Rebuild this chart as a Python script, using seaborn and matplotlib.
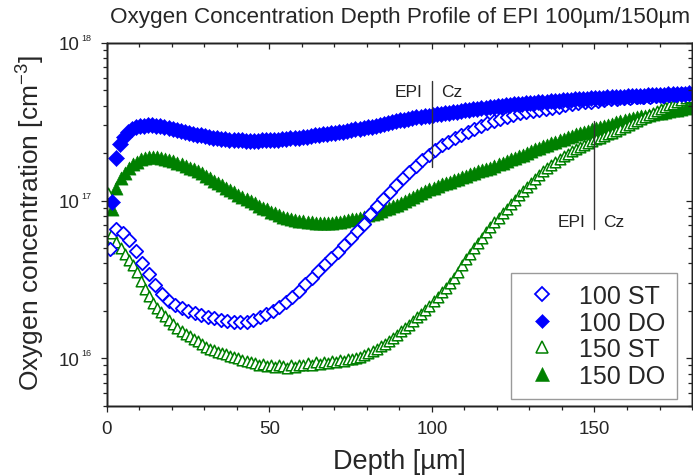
import numpy as np
import matplotlib
matplotlib.use("Agg")
import matplotlib.pyplot as plt
import seaborn as sns
from matplotlib.lines import Line2D
from matplotlib.ticker import MultipleLocator, LogLocator, NullFormatter, FixedLocator

sns.set_style("ticks")
plt.rcParams["font.family"] = ["Liberation Sans", "DejaVu Sans"]
plt.rcParams["mathtext.fontset"] = "custom"
plt.rcParams["mathtext.rm"] = "Liberation Sans"
plt.rcParams["mathtext.it"] = "Liberation Sans:italic"
plt.rcParams["mathtext.bf"] = "Liberation Sans:bold"

BLUE = "#0000FF"
GREEN = "#008000"
UNIT = 1e16  # concentrations below are given in units of 1e16 cm^-3

series_labels = ["100 ST", "100 DO", "150 ST", "150 DO"]

# SIMS sampling depths [um]
depth_100st = 1.0 + 2.0 * np.arange(90)
depth_100do = 1.5 + 1.25 * np.arange(144)
depth_150st = 0.5 + 1.25 * np.arange(144)
depth_150do = 0.5 + 1.25 * np.arange(144)

conc_100st = [
    4.9, 6.6, 6.2, 5.6, 4.8, 4.0, 3.4, 2.9, 2.55, 2.3,
    2.17, 2.07, 2.0, 1.93, 1.88, 1.83, 1.79, 1.76, 1.72, 1.70,
    1.69, 1.71, 1.76, 1.82, 1.90, 2.0, 2.12, 2.27, 2.45, 2.66,
    2.95, 3.25, 3.6, 3.95, 4.35, 4.75, 5.25, 5.8, 6.4, 7.1,
    8.2, 9.2, 10.3, 11.4, 12.6, 13.9, 15.2, 16.6, 18.0, 19.5,
    21.0, 22.4, 23.7, 25.0, 26.2, 27.4, 28.6, 29.8, 31.0, 32.0,
    33.0, 34.0, 34.9, 35.7, 36.4, 37.0, 37.6, 38.1, 38.6, 39.4,
    40.2, 40.8, 41.4, 42.0, 42.5, 43.0, 43.4, 43.8, 44.2, 44.5,
    44.8, 45.1, 45.4, 45.7, 46.0, 46.3, 46.6, 46.9, 47.2, 47.5,
]

conc_100do = [
    9.8, 18.6, 22.9, 25.5, 27.3, 28.4, 29.2, 29.7, 29.9, 30.0, 30.0, 29.9,
    29.6, 29.3, 28.9, 28.5, 28.1, 27.7, 27.3, 26.9, 26.5, 26.2, 25.9, 25.6,
    25.3, 25.1, 24.9, 24.7, 24.5, 24.4, 24.3, 24.2, 24.1, 24.0, 24.0, 24.0,
    24.0, 24.1, 24.1, 24.2, 24.3, 24.4, 24.5, 24.7, 24.8, 25.0, 25.1, 25.3,
    25.5, 25.7, 25.9, 26.1, 26.3, 26.5, 26.7, 26.9, 27.1, 27.4, 27.7, 28.0,
    28.3, 28.6, 28.9, 29.2, 29.5, 29.9, 30.3, 30.7, 31.1, 31.5, 31.9, 32.3,
    32.7, 33.0, 33.4, 33.7, 34.0, 34.3, 34.6, 34.9, 35.2, 35.5, 35.8, 36.1,
    36.4, 36.7, 37.0, 37.3, 37.6, 37.9, 38.2, 38.5, 38.8, 39.1, 39.4, 39.7,
    40.0, 40.3, 40.6, 40.9, 41.1, 41.3, 41.5, 41.7, 41.9, 42.1, 42.3, 42.5,
    42.7, 42.9, 43.1, 43.3, 43.5, 43.7, 43.8, 44.0, 44.2, 44.3, 44.5, 44.6,
    44.8, 44.9, 45.1, 45.2, 45.4, 45.5, 45.7, 45.8, 46.0, 46.1, 46.3, 46.4,
    46.5, 46.7, 46.8, 47.0, 47.1, 47.2, 47.4, 47.5, 47.6, 47.8, 47.9, 48.0,
]

conc_150st = [
    11.2, 6.2, 5.5, 5.0, 4.6, 4.2, 3.9, 3.5, 3.1, 2.75, 2.5, 2.25,
    2.08, 1.96, 1.85, 1.74, 1.64, 1.56, 1.49, 1.43, 1.38, 1.33, 1.29, 1.24,
    1.18, 1.15, 1.13, 1.10, 1.08, 1.06, 1.04, 1.02, 1.00, 0.98, 0.96, 0.94,
    0.93, 0.91, 0.92, 0.89, 0.90, 0.88, 0.91, 0.89, 0.87, 0.90, 0.88, 0.91,
    0.90, 0.93, 0.91, 0.94, 0.92, 0.95, 0.93, 0.96, 0.94, 0.97, 0.96, 0.99,
    0.99, 1.01, 1.02, 1.05, 1.08, 1.11, 1.15, 1.19, 1.24, 1.29, 1.35, 1.41,
    1.48, 1.55, 1.63, 1.72, 1.82, 1.92, 2.03, 2.16, 2.30, 2.45, 2.62, 2.80,
    3.0, 3.25, 3.55, 3.9, 4.25, 4.6, 5.0, 5.4, 5.8, 6.3, 6.8, 7.3,
    7.8, 8.3, 8.9, 9.5, 10.1, 10.8, 11.5, 12.2, 12.9, 13.7, 14.5, 15.3,
    16.1, 16.9, 17.6, 18.4, 19.1, 19.8, 20.5, 21.2, 21.9, 22.6, 23.3, 23.9,
    24.5, 25.1, 25.7, 26.3, 27.0, 27.7, 28.5, 29.3, 30.2, 31.1, 32.0, 32.9,
    33.8, 34.8, 35.8, 36.9, 38.0, 39.1, 40.2, 41.3, 42.4, 43.5, 44.6, 45.6,
]

conc_150do = [
    5.1, 8.9, 12.0, 13.9, 15.0, 16.2, 17.0, 17.7, 18.3, 18.7, 18.9, 18.9,
    18.8, 18.6, 18.4, 18.1, 17.8, 17.4, 17.0, 16.6, 16.2, 15.8, 15.3, 14.9,
    14.4, 13.9, 13.4, 12.9, 12.5, 12.1, 11.7, 11.3, 10.9, 10.6, 10.2, 9.9,
    9.6, 9.3, 9.0, 8.8, 8.5, 8.3, 8.1, 7.9, 7.8, 7.6, 7.5, 7.4,
    7.4, 7.3, 7.3, 7.2, 7.2, 7.2, 7.2, 7.2, 7.3, 7.3, 7.4, 7.5,
    7.6, 7.7, 7.8, 7.9, 8.1, 8.2, 8.4, 8.6, 8.8, 9.0, 9.2, 9.4,
    9.7, 10.0, 10.3, 10.6, 10.9, 11.2, 11.5, 11.8, 12.1, 12.4, 12.7, 13.0,
    13.2, 13.5, 13.8, 14.1, 14.4, 14.7, 15.0, 15.3, 15.6, 15.9, 16.2, 16.5,
    17.0, 17.4, 17.8, 18.3, 18.7, 19.2, 19.6, 20.1, 20.6, 21.1, 21.6, 22.1,
    22.6, 23.1, 23.6, 24.2, 24.7, 25.2, 25.8, 26.3, 26.8, 27.3, 27.8, 28.3,
    28.8, 29.3, 29.8, 30.3, 30.8, 31.3, 31.8, 32.3, 32.8, 33.3, 33.7, 34.2,
    34.6, 35.0, 35.4, 35.8, 36.2, 36.6, 37.0, 37.4, 37.8, 38.2, 38.6, 39.0,
]

x_ticks = [0, 50, 100, 150]
y_decades = [16, 17, 18]

fig = plt.figure(figsize=(6.93, 4.77), dpi=100)
ax = fig.add_axes([0.154, 0.1474, 0.8446, 0.7604])
ax.set_yscale("log")

def conc(values):
    return np.asarray(values) * UNIT

# filled series first, open symbols drawn with a white interior
sns.scatterplot(x=depth_150do, y=conc(conc_150do), marker="^", s=9.5 ** 2,
                color=GREEN, edgecolor=GREEN, linewidth=0.4, ax=ax, legend=False)
sns.scatterplot(x=depth_150st, y=conc(conc_150st), marker="^", s=7.6 ** 2,
                color="white", edgecolor=GREEN, linewidth=1.1, ax=ax, legend=False)
sns.scatterplot(x=depth_100st, y=conc(conc_100st), marker="D", s=6.8 ** 2,
                color="white", edgecolor=BLUE, linewidth=1.3, ax=ax, legend=False)
sns.scatterplot(x=depth_100do, y=conc(conc_100do), marker="D", s=8.2 ** 2,
                color=BLUE, edgecolor=BLUE, linewidth=0.4, ax=ax, legend=False)

ax.set_xlim(0, 180)
ax.set_ylim(5e15, 1e18)

# axis styling: outward ticks at bottom/left, inward mirrored ticks at top/right
spine_color = "#222222"
for sp in ax.spines.values():
    sp.set_linewidth(1.0)
    sp.set_color(spine_color)
ax.xaxis.set_major_locator(FixedLocator(x_ticks))
ax.xaxis.set_minor_locator(MultipleLocator(10))
ax.set_yticks([10.0 ** e for e in y_decades])
ax.set_yticklabels(["10"] * len(y_decades))
ax.yaxis.set_minor_locator(LogLocator(base=10, subs=np.arange(2, 10)))
ax.yaxis.set_minor_formatter(NullFormatter())
ax.tick_params(which="major", direction="out", length=4.3, width=0.9, color=spine_color,
               labelsize=13.5)
ax.tick_params(which="minor", direction="out", length=2.9, width=0.9, color=spine_color)
ax.tick_params(axis="x", which="major", pad=6.0)
ax.tick_params(axis="y", which="major", pad=15.5)

for e in y_decades:
    ax.annotate(str(e), xy=(0, 10.0 ** e), xycoords=("axes fraction", "data"),
                xytext=(-18.0, 2.0), textcoords="offset points",
                ha="left", va="baseline", fontsize=6.5)

ax_top = ax.twiny()
ax_top.set_xlim(ax.get_xlim())
ax_top.xaxis.set_major_locator(FixedLocator(x_ticks))
ax_top.xaxis.set_minor_locator(MultipleLocator(10))
ax_top.tick_params(which="both", direction="in", labeltop=False, color=spine_color, width=0.9)
ax_top.tick_params(which="major", length=4.3)
ax_top.tick_params(which="minor", length=2.9)

ax_right = ax.twinx()
ax_right.set_yscale("log")
ax_right.set_ylim(ax.get_ylim())
ax_right.yaxis.set_major_locator(FixedLocator([10.0 ** e for e in y_decades]))
ax_right.yaxis.set_minor_locator(LogLocator(base=10, subs=np.arange(2, 10)))
ax_right.yaxis.set_minor_formatter(NullFormatter())
ax_right.tick_params(which="both", direction="in", labelright=False, color=spine_color, width=0.9)
ax_right.tick_params(which="major", length=4.3)
ax_right.tick_params(which="minor", length=2.9)
for a in (ax_top, ax_right):
    for sp in a.spines.values():
        sp.set_linewidth(1.0)
        sp.set_color(spine_color)

ax.set_xlabel("Depth [µm]", fontsize=19.5)
ax.xaxis.set_label_coords(0.5, -0.118)
ax.set_ylabel("Oxygen concentration [cm$^{-3}$]", fontsize=19)
ax.yaxis.set_label_coords(-0.102, 0.505)

ax.text(0.502, 1.072, "Oxygen Concentration Depth Profile of EPI 100µm/150µm",
        transform=ax.transAxes, ha="center", va="center", fontsize=16.2)

# EPI / Cz interface markers
for xpos, y0, y1, ytxt in [(100, 0.657, 0.896, 0.865), (150, 0.487, 0.786, 0.5065)]:
    ax.axvline(xpos, ymin=y0, ymax=y1, color="#333333", lw=1.0)
    ax.annotate("EPI", xy=(xpos, ytxt), xycoords=("data", "axes fraction"),
                xytext=(-6.5, 0), textcoords="offset points", ha="right", va="center",
                fontsize=12.5, color="#222222")
    ax.annotate("Cz", xy=(xpos, ytxt), xycoords=("data", "axes fraction"),
                xytext=(6.5, 0), textcoords="offset points", ha="left", va="center",
                fontsize=12.5, color="#222222")

handles = [
    Line2D([], [], ls="none", marker="D", ms=7.0, mfc="white", mec=BLUE, mew=1.3),
    Line2D([], [], ls="none", marker="D", ms=7.6, mfc=BLUE, mec=BLUE, mew=0.4),
    Line2D([], [], ls="none", marker="^", ms=8.0, mfc="white", mec=GREEN, mew=1.1),
    Line2D([], [], ls="none", marker="^", ms=9.5, mfc=GREEN, mec=GREEN, mew=0.4),
]
leg = ax.legend(handles, series_labels, loc="lower right", bbox_to_anchor=(0.9744, 0.0185),
                borderaxespad=0, fontsize=18, frameon=True, fancybox=False,
                borderpad=0.45, handlelength=1.6, handletextpad=0.7, labelspacing=0.1,
                framealpha=1.0)
leg.get_frame().set_edgecolor("#9a9a9a")
leg.get_frame().set_linewidth(1.0)

fig.savefig("out.png", dpi=100)
